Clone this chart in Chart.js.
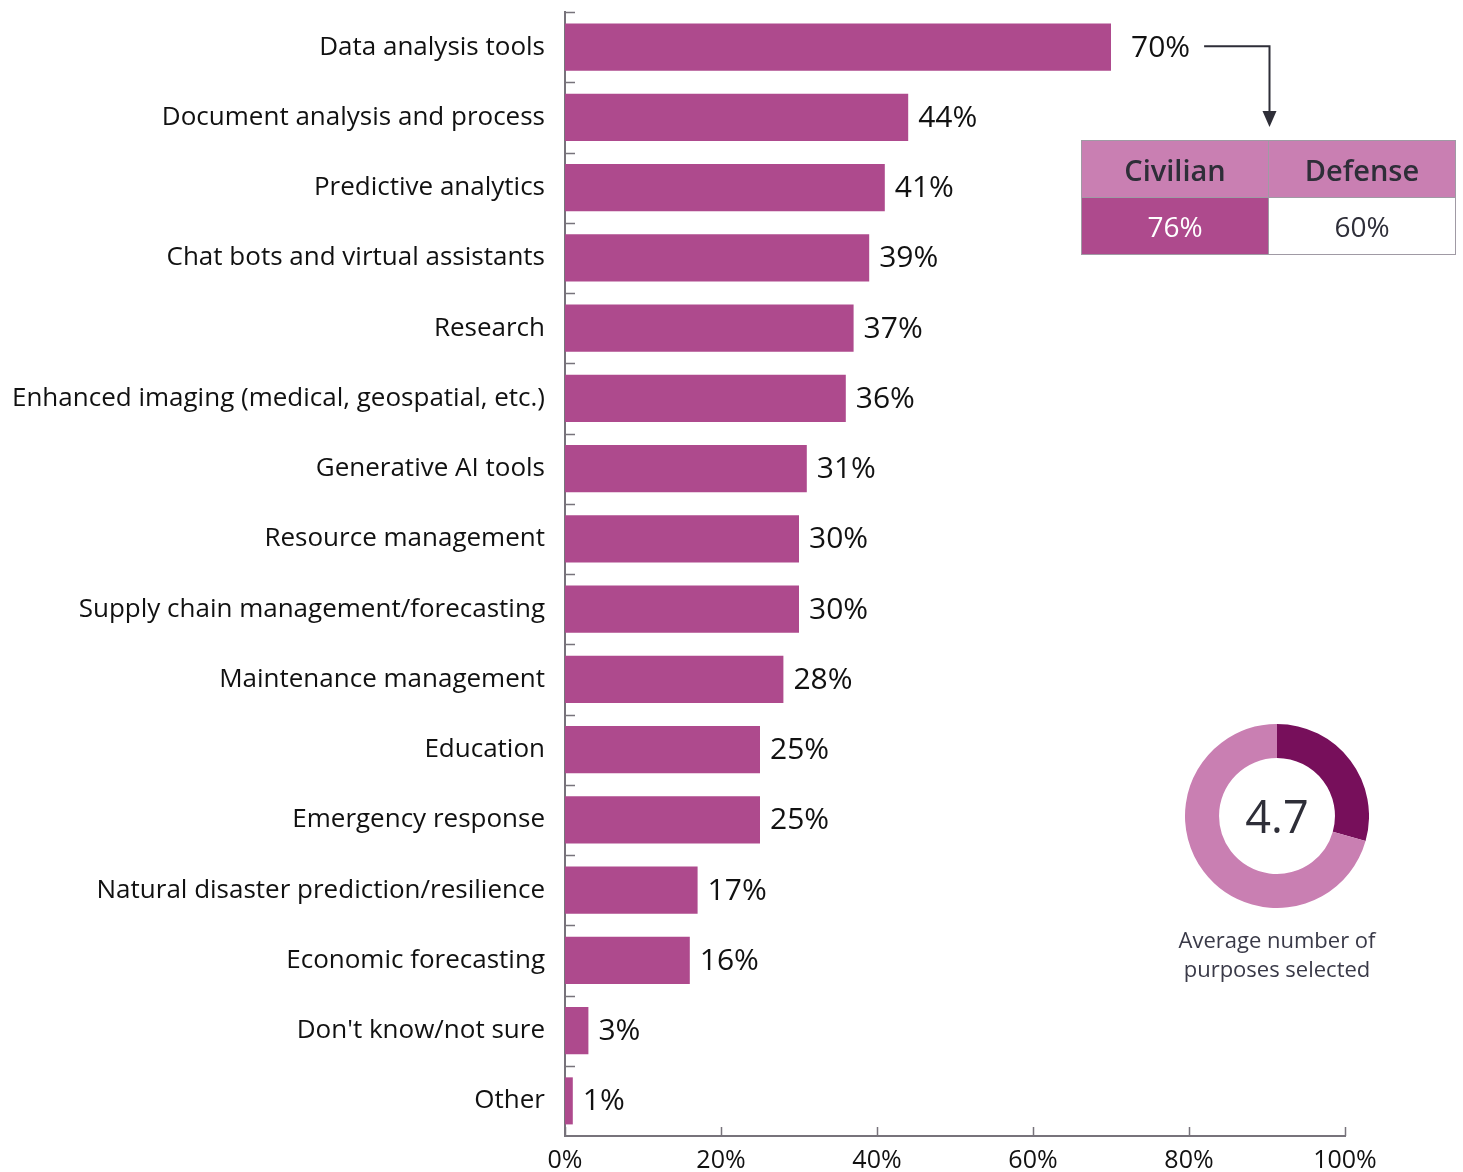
<!DOCTYPE html>
<html>
<head>
<meta charset="utf-8">
<script src="https://cdn.jsdelivr.net/npm/chart.js@4"></script>
<style>
  html, body { margin: 0; padding: 0; background: #fff; }
  body { width: 1463px; height: 1172px; position: relative; overflow: hidden; font-family: "Open Sans", sans-serif; }
  #barChart { position: absolute; left: 0; top: 0; }
  #split { position: absolute; left: 1081px; top: 140px; border-collapse: collapse; }
  #split td { border: 1.5px solid #a09aa4; text-align: center; color: #2e2e38; width: 186px; padding: 0; }
  #split .head { background: #c97fb2; height: 56px; font-size: 29px; font-weight: 600; }
  #split .val { height: 56px; font-size: 28px; }
  #split .civ { background: #ae4a8d; color: #fff; }
  #donutChart { position: absolute; left: 1185px; top: 724px; }
  #donutValue { position: absolute; left: 1185px; top: 724px; width: 184px; height: 184px; line-height: 184px; text-align: center; font-size: 45px; color: #2e2e38; }
  #donutCaption { position: absolute; left: 1127px; top: 925px; width: 300px; text-align: center; font-size: 22px; line-height: 29px; color: #3a3a48; }
</style>
</head>
<body>
<canvas id="barChart" width="1463" height="1172"></canvas>

<table id="split">
  <tr><td class="head">Civilian</td><td class="head">Defense</td></tr>
  <tr><td class="val civ" id="civVal"></td><td class="val" id="defVal"></td></tr>
</table>

<canvas id="donutChart" width="184" height="184"></canvas>
<div id="donutValue"></div>
<div id="donutCaption">Average number of<br>purposes selected</div>

<script>
// survey results: purposes AI is used for (% of respondents)
const purposes = [
    'Data analysis tools',
    'Document analysis and process',
    'Predictive analytics',
    'Chat bots and virtual assistants',
    'Research',
    'Enhanced imaging (medical, geospatial, etc.)',
    'Generative AI tools',
    'Resource management',
    'Supply chain management/forecasting',
    'Maintenance management',
    'Education',
    'Emergency response',
    'Natural disaster prediction/resilience',
    'Economic forecasting',
    "Don't know/not sure",
    'Other'
];
const shares = [70, 44, 41, 39, 37, 36, 31, 30, 30, 28, 25, 25, 17, 16, 3, 1];
const xTicks = [0, 20, 40, 60, 80, 100];

// breakdown of the top bar
const splitLabels = ['Civilian', 'Defense'];
const splitShares = [76, 60];

// average number of purposes picked out of the list
const avgPurposes = 4.7;

const barColor = '#ae4a8d';
const axisColor = '#77737b';
const labelFont = '"Open Sans", sans-serif';

// short tick marks pointing into the plot area, plus value labels and the arrow
const decorations = {
    id: 'decorations',
    afterDatasetsDraw(chart) {
        const { ctx, chartArea } = chart;
        const xs = chart.scales.x;
        const ys = chart.scales.y;
        ctx.save();
        ctx.strokeStyle = axisColor;
        ctx.lineWidth = 1.5;

        // category boundaries on the y axis
        const step = (ys.bottom - ys.top) / purposes.length;
        for (let i = 0; i < purposes.length; i++) {
            const y = Math.round(ys.top + i * step) + 0.5;
            ctx.beginPath();
            ctx.moveTo(chartArea.left, y);
            ctx.lineTo(chartArea.left + 10, y);
            ctx.stroke();
        }
        // value ticks on the x axis
        xTicks.forEach(v => {
            const x = Math.round(xs.getPixelForValue(v)) + 0.5;
            ctx.beginPath();
            ctx.moveTo(x, chartArea.bottom);
            ctx.lineTo(x, chartArea.bottom - 9);
            ctx.stroke();
        });

        // value labels
        const meta = chart.getDatasetMeta(0);
        ctx.font = '500 30px ' + labelFont;
        ctx.fillStyle = '#111';
        ctx.textBaseline = 'middle';
        ctx.textAlign = 'left';
        let firstEnd = 0;
        meta.data.forEach((bar, i) => {
            const txt = shares[i] + '%';
            const gap = i === 0 ? 20 : 10;
            ctx.fillText(txt, bar.x + gap, bar.y + 1);
            if (i === 0) firstEnd = bar.x + gap + ctx.measureText(txt).width;
        });

        // elbow arrow from the top bar to the breakdown table
        const y0 = meta.data[0].y - 1;
        const ax = 1269.5;
        const tipY = 127;
        ctx.strokeStyle = '#2e2e38';
        ctx.fillStyle = '#2e2e38';
        ctx.lineWidth = 2;
        ctx.beginPath();
        ctx.moveTo(firstEnd + 14, y0);
        ctx.lineTo(ax, y0);
        ctx.lineTo(ax, tipY - 14);
        ctx.stroke();
        ctx.beginPath();
        ctx.moveTo(ax - 7, tipY - 16);
        ctx.lineTo(ax + 7, tipY - 16);
        ctx.lineTo(ax, tipY);
        ctx.closePath();
        ctx.fill();
        ctx.restore();
    }
};

new Chart(document.getElementById('barChart'), {
    type: 'bar',
    data: {
        labels: purposes,
        datasets: [{
            data: shares,
            backgroundColor: barColor,
            borderWidth: 0,
            barPercentage: 0.67,
            categoryPercentage: 1
        }]
    },
    options: {
        indexAxis: 'y',
        responsive: false,
        animation: false,
        layout: { padding: { top: 12, right: 118, left: 0, bottom: 0 } },
        plugins: {
            legend: { display: false },
            tooltip: { enabled: false }
        },
        scales: {
            x: {
                min: 0,
                max: 100,
                afterBuildTicks(scale) {
                    scale.ticks = xTicks.map(v => ({ value: v }));
                },
                afterFit(scale) {
                    scale.height = 36;
                    scale.paddingLeft = 0;
                    scale.paddingRight = 0;
                },
                grid: { display: false, drawTicks: false },
                border: { display: true, color: axisColor, width: 2 },
                ticks: {
                    padding: 10,
                    color: '#111',
                    font: { family: labelFont, size: 25 },
                    callback: v => v + '%'
                }
            },
            y: {
                afterFit(scale) {
                    scale.width = 565;
                    scale.paddingTop = 0;
                    scale.paddingBottom = 0;
                },
                grid: { display: false, drawTicks: false },
                border: { display: true, color: axisColor, width: 2 },
                ticks: {
                    padding: 20,
                    color: '#111',
                    font: { family: labelFont, size: 26 }
                }
            }
        }
    },
    plugins: [decorations]
});

// breakdown table values
document.getElementById('civVal').textContent = splitShares[0] + '%';
document.getElementById('defVal').textContent = splitShares[1] + '%';

// donut: average picks against the 16 listed purposes
new Chart(document.getElementById('donutChart'), {
    type: 'doughnut',
    data: {
        labels: ['Selected', 'Not selected'],
        datasets: [{
            data: [avgPurposes, purposes.length - avgPurposes],
            backgroundColor: ['#770f5b', '#c97fb2'],
            borderWidth: 0
        }]
    },
    options: {
        responsive: false,
        animation: false,
        cutout: '63%',
        plugins: {
            legend: { display: false },
            tooltip: { enabled: false }
        }
    }
});
document.getElementById('donutValue').textContent = avgPurposes;
</script>
</body>
</html>
